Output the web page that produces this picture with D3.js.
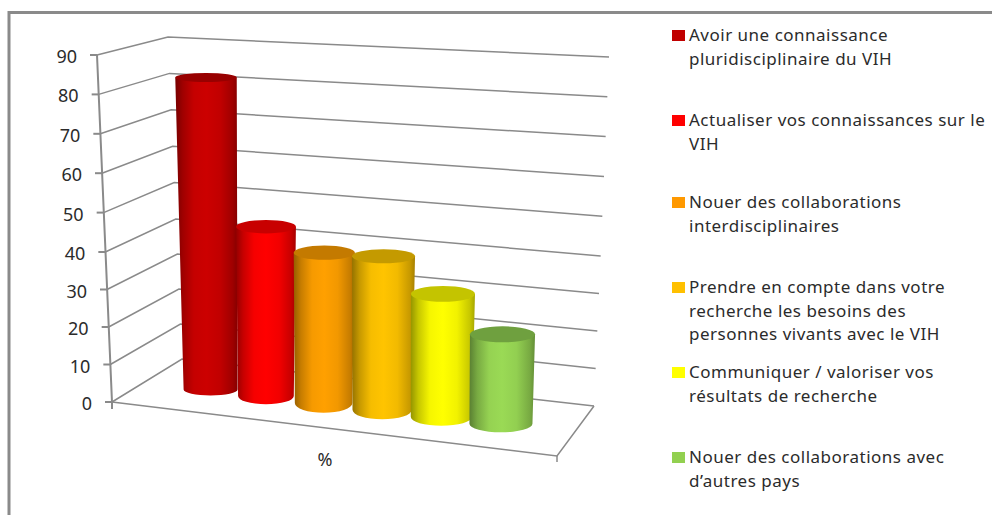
<!DOCTYPE html>
<html>
<head>
<meta charset="utf-8">
<script src="https://cdn.jsdelivr.net/npm/d3@7"></script>
<style>
  html, body { margin: 0; padding: 0; background: #fff; overflow: hidden; }
  text { font-family: "Noto Sans", sans-serif; fill: #2b2b2b; }
</style>
</head>
<body>
<svg id="chart" width="992" height="515"></svg>
<script>
const categories = [
  "Avoir une connaissance pluridisciplinaire du VIH",
  "Actualiser vos connaissances sur le VIH",
  "Nouer des collaborations interdisciplinaires",
  "Prendre en compte dans votre recherche les besoins des personnes vivants avec le VIH",
  "Communiquer / valoriser vos résultats de recherche",
  "Nouer des collaborations avec d’autres pays"
];
const legendLines = [
  ["Avoir une connaissance", "pluridisciplinaire du VIH"],
  ["Actualiser vos connaissances sur le", "VIH"],
  ["Nouer des collaborations", "interdisciplinaires"],
  ["Prendre en compte dans votre", "recherche les besoins des", "personnes vivants avec le VIH"],
  ["Communiquer / valoriser vos", "résultats de recherche"],
  ["Nouer des collaborations avec", "d’autres pays"]
];
const values = [83, 45.5, 40.2, 40.7, 32.3, 23.3];
const yTicks = [0, 10, 20, 30, 40, 50, 60, 70, 80, 90];
const xLabel = "%";
const barColors = ["#cc0000", "#ff0000", "#ffa000", "#ffc400", "#ffff00", "#9ada55"];
const topColors = ["#980000", "#c80000", "#c47a00", "#c49a00", "#c4c400", "#6fa03f"];
const swatchColors = ["#c00000", "#ff0000", "#ff9900", "#ffc000", "#ffff00", "#92d050"];
const legendBaselines = [41, 126, 208, 293, 378, 463];

const svg = d3.select("#chart");
const grey = "#8a8a8a";

// frame
svg.append("path")
  .attr("d", "M9,515V12.5H992")
  .attr("fill", "none").attr("stroke", grey).attr("stroke-width", 3);

// the four vertical edges of the 3d box, each one a pair of scales
const edge = (x0, x90, y0, y40, y90) => ({
  x: d3.scaleLinear().domain([0, 90]).range([x0, x90]),
  y: d3.scaleLinear().domain([0, 40, 90]).range([y0, y40, y90])
});
const frontLeft = edge(112, 97, 402, 252, 55);
const backLeft = edge(182, 168, 359, 219, 37);
const backRight = edge(594, 609, 406, 256, 57);
const frontRight = edge(557, 572, 456, 296, 88);

// u: along the categories, v: depth (0 front, 1 back), w: value
const project = (u, v, w) => {
  const lerp = d3.interpolateNumber;
  const lx = lerp(frontLeft.x(w), backLeft.x(w))(v), ly = lerp(frontLeft.y(w), backLeft.y(w))(v);
  const rx = lerp(frontRight.x(w), backRight.x(w))(v), ry = lerp(frontRight.y(w), backRight.y(w))(v);
  return [lerp(lx, rx)(u), lerp(ly, ry)(u)];
};

// bars get wider apart to the right, the box is in perspective
const barPos = d3.scalePow().exponent(1.03)
  .domain([0, categories.length - 1])
  .range([0.153, 0.829]);

// back walls and floor
const wall = svg.append("g").attr("fill", "none").attr("stroke", grey).attr("stroke-width", 1.5);
wall.selectAll("path.grid")
  .data(yTicks)
  .enter()
  .append("path")
  .attr("class", "grid")
  .attr("d", d => d3.line()([
    [frontLeft.x(d), frontLeft.y(d)],
    [backLeft.x(d), backLeft.y(d)],
    [backRight.x(d), backRight.y(d)]
  ]));
wall.append("path").attr("d", d3.line()([
  [frontLeft.x(0), frontLeft.y(0)],
  [frontRight.x(0), frontRight.y(0)],
  [backRight.x(0), backRight.y(0)]
]));
wall.append("path").attr("stroke-width", 2).attr("d", d3.line()([
  [frontLeft.x(90), frontLeft.y(90)],
  [frontLeft.x(0), frontLeft.y(0)],
  [frontLeft.x(0), frontLeft.y(0) + 7]
]));
wall.append("path").attr("d", d3.line()([
  [frontRight.x(0), frontRight.y(0)],
  [frontRight.x(0), frontRight.y(0) + 6]
]));
wall.selectAll("path.tick")
  .data(yTicks)
  .enter()
  .append("path")
  .attr("class", "tick")
  .attr("stroke-width", 2)
  .attr("d", d => d3.line()([
    [frontLeft.x(d) - 7, frontLeft.y(d)],
    [frontLeft.x(d), frontLeft.y(d)]
  ]));

// y labels
svg.selectAll("text.ylab")
  .data(yTicks)
  .enter()
  .append("text")
  .attr("class", "ylab")
  .attr("x", d => frontLeft.x(d) - 20)
  .attr("y", d => frontLeft.y(d) + 8)
  .attr("text-anchor", "end")
  .attr("font-size", 18)
  .text(d => d);

svg.append("text")
  .attr("x", 325).attr("y", 466)
  .attr("text-anchor", "middle")
  .attr("font-size", 18)
  .text(xLabel);

// cylinder gradients
const defs = svg.append("defs");
const shade = (c, k) => d3.color(c).darker(k).formatHex();
categories.forEach((c, i) => {
  const g = defs.append("linearGradient").attr("id", "bar" + i);
  const stops = [[0, 1.5], [0.12, 0.7], [0.3, 0.1], [0.5, 0], [0.72, 0.15], [0.92, 0.7], [1, 1.2]];
  stops.forEach(s => g.append("stop").attr("offset", s[0]).attr("stop-color", shade(barColors[i], s[1])));
});

const depth = 0.47;
const rBase = d3.scaleLinear().domain([0.153, 0.829]).range([27, 31.5]);
const ryBase = d3.scaleLinear().domain([0.153, 0.4, 0.829]).range([6, 10, 8.5]);
const ryTop = d3.scaleLinear().domain([23, 32, 41, 84]).range([8, 8, 7, 4.5]);
const lean = d3.scaleLinear().domain([0.153, 0.27, 0.829]).range([-5, 0, 6]);
const radius = (u, w) => rBase(u) + w * 0.045;

// where a bar stands and where its top ends up
const barGeom = (d, i) => {
  const u = barPos(i);
  const [bx, by] = project(u, depth, 0);
  const ty = project(u, depth, d)[1];
  return { u, bx, by, tx: bx + lean(u) * d / 90, ty, rb: radius(u, 0), rt: radius(u, d), ry: ryBase(u) };
};

// bars go left to right, each one sits over the previous
const bars = svg.selectAll("g.bar")
  .data(values)
  .enter()
  .append("g")
  .attr("class", "bar");

bars.append("path")
  .attr("fill", (d, i) => `url(#bar${i})`)
  .attr("d", (d, i) => {
    const g = barGeom(d, i);
    return `M${g.tx - g.rt},${g.ty}L${g.bx - g.rb},${g.by}A${g.rb},${g.ry} 0 0 0 ${g.bx + g.rb},${g.by}L${g.tx + g.rt},${g.ty}Z`;
  });

bars.append("ellipse")
  .attr("fill", (d, i) => topColors[i])
  .attr("cx", (d, i) => barGeom(d, i).tx)
  .attr("cy", (d, i) => barGeom(d, i).ty)
  .attr("rx", (d, i) => barGeom(d, i).rt)
  .attr("ry", d => ryTop(d));

// legend
const legend = svg.selectAll("g.legend")
  .data(categories)
  .enter()
  .append("g")
  .attr("class", "legend")
  .attr("transform", (d, i) => `translate(672,${legendBaselines[i]})`);

legend.append("rect")
  .attr("y", -11).attr("width", 13).attr("height", 11)
  .attr("fill", (d, i) => swatchColors[i]);

legend.each(function (d, i) {
  d3.select(this).selectAll("text")
    .data(legendLines[i])
    .enter()
    .append("text")
    .attr("x", 17)
    .attr("y", (l, j) => j * 23.5)
    .attr("font-size", 17)
    .attr("letter-spacing", 0.5)
    .text(l => l);
});
</script>
</body>
</html>
